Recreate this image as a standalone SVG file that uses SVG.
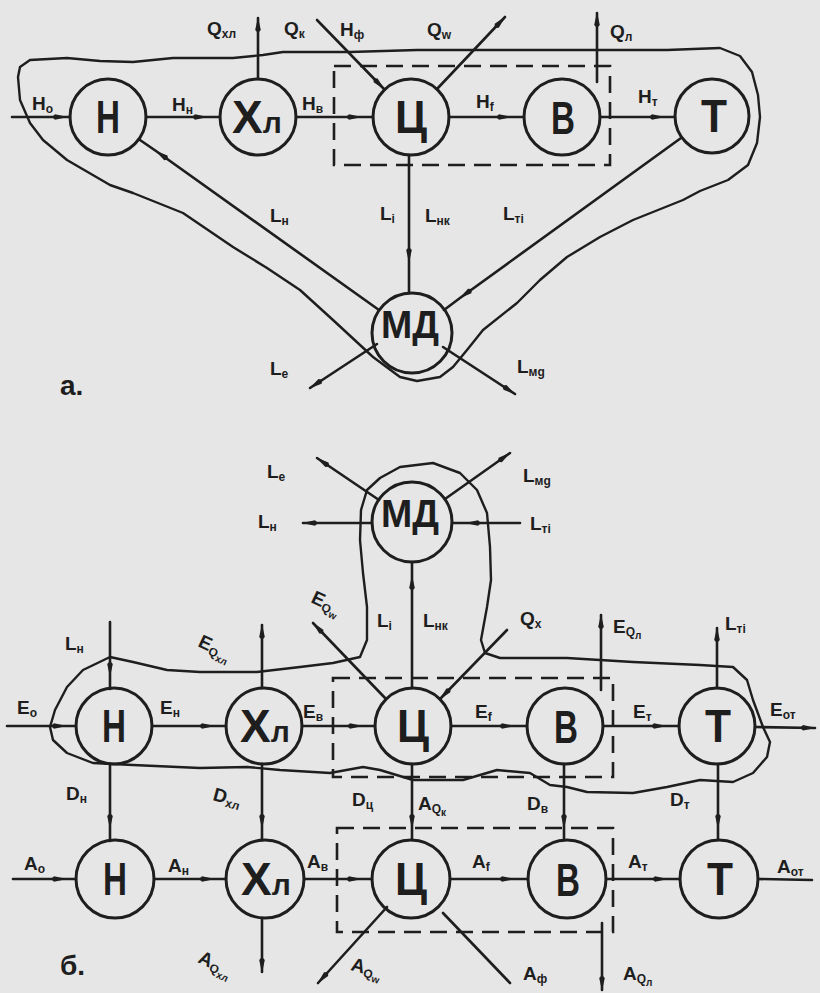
<svg xmlns="http://www.w3.org/2000/svg" width="820" height="993" viewBox="0 0 820 993">
<style>
.bg{fill:#e6e6e6}
circle{fill:none;stroke:#1e1e1e;stroke-width:3}
.ln{fill:none;stroke:#1e1e1e;stroke-width:2.6;stroke-linecap:round}
.bd{fill:none;stroke:#1e1e1e;stroke-width:2.4;stroke-linejoin:round}
.ds{fill:none;stroke:#1e1e1e;stroke-width:2.6;stroke-dasharray:17 9}
text{font-family:"Liberation Sans","DejaVu Sans",sans-serif;font-weight:bold;fill:#1e1e1e}
.nd{font-size:46px;text-anchor:middle}
.md{font-size:38px;text-anchor:middle}
.lb{font-size:19px}
.s{font-size:12px}
.big{font-size:28px}
</style>
<defs>
<marker id="ah" viewBox="0 0 16 8" refX="15" refY="4" markerWidth="16" markerHeight="8" markerUnits="userSpaceOnUse" orient="auto">
<path d="M0,4 L3,1.2 L16,4 L3,6.8 Z" fill="#1e1e1e"/>
</marker>
</defs>
<rect class="bg" x="0" y="0" width="820" height="993"/>

<!-- ===== diagram a ===== -->
<g id="a-boundary">
<path class="bd" d="M20,67 L30,60 L67,58 L100,61 L133,62 L173,58 L233,58 L263,55 L283,52 L350,52 L417,50 L500,50 L600,50 L667,50 L720,48 L740,56 L752,72 L758,95 L760,117 L757,143 L748,165 L728,180 L700,191 L683,200 L633,220 L600,237 L567,257 L540,280 L517,303 L483,330 L467,350 L453,367 L440,377 L417,381 L400,377 L373,357 L333,320 L300,290 L267,268 L233,247 L183,213 L133,193 L110,185 L67,160 L43,140 L30,123 L20,100 L18,77 Z"/>
<rect class="ds" x="334" y="66" width="276" height="99"/>
</g>
<g id="a-N"><circle cx="108" cy="117" r="38"/><text class="nd" x="108" y="133" textLength="24" lengthAdjust="spacingAndGlyphs">Н</text></g>
<g id="a-XL"><circle cx="258" cy="117" r="38"/><text class="nd" x="232" y="133" style="text-anchor:start">Х<tspan font-size="30">л</tspan></text></g>
<g id="a-C"><circle cx="411" cy="117" r="38"/><text class="nd" x="411" y="133" textLength="32" lengthAdjust="spacingAndGlyphs">Ц</text></g>
<g id="a-B"><circle cx="562" cy="117" r="38"/><text class="nd" x="563" y="134" textLength="24" lengthAdjust="spacingAndGlyphs">В</text></g>
<g id="a-T"><circle cx="712" cy="116" r="37"/><text class="nd" x="714" y="132" textLength="26" lengthAdjust="spacingAndGlyphs">Т</text></g>
<g id="a-MD"><circle cx="412" cy="333" r="40"/><text class="md" x="410" y="338" textLength="58" lengthAdjust="spacingAndGlyphs">МД</text></g>

<g id="a-connectors">
<path class="ln" marker-mid="url(#ah)" d="M12,117 L67,117 L70,117"/>
<path class="ln" marker-mid="url(#ah)" d="M146,117 L207,117 L220,117"/>
<path class="ln" marker-mid="url(#ah)" d="M296,117 L361,117 L373,117"/>
<path class="ln" marker-mid="url(#ah)" d="M449,117 L511,117 L524,117"/>
<path class="ln" marker-mid="url(#ah)" d="M600,117 L664,117 L675,117"/>
<path class="ln" marker-end="url(#ah)" d="M258,79 L258,18"/>
<path class="ln" marker-end="url(#ah)" d="M317,20 L384,89"/>
<path class="ln" marker-end="url(#ah)" d="M437,89 L505,17"/>
<path class="ln" marker-end="url(#ah)" d="M597,82 L597,13"/>
<path class="ln" marker-mid="url(#ah)" d="M379,310 L156,151 L140,140"/>
<path class="ln" marker-mid="url(#ah)" d="M409,155 L409,262 L409,293"/>
<path class="ln" marker-mid="url(#ah)" d="M681,138 L460,298 L444,310"/>
<path class="ln" marker-end="url(#ah)" d="M377,344 L310,388"/>
<path class="ln" marker-end="url(#ah)" d="M443,347 L515,394"/>
</g>
<g id="a-labels">
<text class="lb" x="32" y="110">H<tspan class="s" dy="3">о</tspan></text>
<text class="lb" x="172" y="111">H<tspan class="s" dy="3">н</tspan></text>
<text class="lb" x="302" y="110">H<tspan class="s" dy="3">в</tspan></text>
<text class="lb" x="476" y="108">H<tspan class="s" dy="3">f</tspan></text>
<text class="lb" x="638" y="103">H<tspan class="s" dy="3">т</tspan></text>
<text class="lb" x="207" y="35">Q<tspan class="s" dy="3">хл</tspan></text>
<text class="lb" x="284" y="35">Q<tspan class="s" dy="3">к</tspan></text>
<text class="lb" x="340" y="36">H<tspan class="s" dy="3">ф</tspan></text>
<text class="lb" x="427" y="36">Q<tspan class="s" dy="3">w</tspan></text>
<text class="lb" x="610" y="38">Q<tspan class="s" dy="3">л</tspan></text>
<text class="lb" x="270" y="222">L<tspan class="s" dy="3">н</tspan></text>
<text class="lb" x="380" y="220">L<tspan class="s" dy="3">i</tspan></text>
<text class="lb" x="425" y="222">L<tspan class="s" dy="3">нк</tspan></text>
<text class="lb" x="503" y="220">L<tspan class="s" dy="3">тi</tspan></text>
<text class="lb" x="270" y="375">L<tspan class="s" dy="3">e</tspan></text>
<text class="lb" x="517" y="373">L<tspan class="s" dy="3">мg</tspan></text>
<text class="big" x="60" y="395">а.</text>
</g>

<!-- ===== diagram б ===== -->
<g id="b-boundary">
<path class="bd" d="M110,657 L133,662 L167,670 L200,672 L257,672 L300,667 L333,663 L360,657 L367,640 L367,607 L363,573 L360,540 L361,510 L367,490 L380,478 L400,467 L433,463 L460,473 L477,490 L487,513 L490,547 L491,580 L487,607 L481,640 L485,653 L500,658 L567,658 L633,662 L700,665 L733,667 L747,680 L753,700 L763,727 L770,742 L767,757 L753,773 L733,782 L700,780 L667,787 L633,793 L587,792 L567,787 L550,785 L530,773 L497,770 L463,780 L413,780 L380,770 L363,767 L330,773 L280,770 L247,767 L200,768 L133,765 L93,763 L67,753 L53,740 L50,727 L55,710 L67,687 L83,670 Z"/>
<rect class="ds" x="333" y="678" width="280" height="99"/>
<rect class="ds" x="337" y="828" width="276" height="104"/>
</g>
<g id="b-MD"><circle cx="412" cy="522" r="40"/><text class="md" x="410" y="527" textLength="58" lengthAdjust="spacingAndGlyphs">МД</text></g>
<g id="b-N1"><circle cx="114" cy="726" r="38"/><text class="nd" x="114" y="742" textLength="24" lengthAdjust="spacingAndGlyphs">Н</text></g>
<g id="b-XL1"><circle cx="264" cy="726" r="38"/><text class="nd" x="240" y="742" style="text-anchor:start">Х<tspan font-size="30">л</tspan></text></g>
<g id="b-C1"><circle cx="413" cy="726" r="38"/><text class="nd" x="413" y="742" textLength="32" lengthAdjust="spacingAndGlyphs">Ц</text></g>
<g id="b-B1"><circle cx="565" cy="726" r="38"/><text class="nd" x="566" y="743" textLength="24" lengthAdjust="spacingAndGlyphs">В</text></g>
<g id="b-T1"><circle cx="717" cy="726" r="38"/><text class="nd" x="718" y="742" textLength="26" lengthAdjust="spacingAndGlyphs">Т</text></g>
<g id="b-N2"><circle cx="115" cy="879" r="39"/><text class="nd" x="115" y="895" textLength="24" lengthAdjust="spacingAndGlyphs">Н</text></g>
<g id="b-XL2"><circle cx="265" cy="879" r="39"/><text class="nd" x="241" y="895" style="text-anchor:start">Х<tspan font-size="30">л</tspan></text></g>
<g id="b-C2"><circle cx="411" cy="879" r="39"/><text class="nd" x="411" y="895" textLength="32" lengthAdjust="spacingAndGlyphs">Ц</text></g>
<g id="b-B2"><circle cx="567" cy="879" r="39"/><text class="nd" x="568" y="896" textLength="24" lengthAdjust="spacingAndGlyphs">В</text></g>
<g id="b-T2"><circle cx="719" cy="879" r="39"/><text class="nd" x="720" y="895" textLength="26" lengthAdjust="spacingAndGlyphs">Т</text></g>

<g id="b-connectors">
<path class="ln" marker-end="url(#ah)" d="M379,500 L317,458"/>
<path class="ln" marker-end="url(#ah)" d="M372,523 L303,523"/>
<path class="ln" marker-end="url(#ah)" d="M445,499 L510,453"/>
<path class="ln" marker-mid="url(#ah)" d="M520,523 L466,523 L452,523"/>
<path class="ln" marker-mid="url(#ah)" d="M412,688 L412,576 L412,562"/>
<path class="ln" marker-mid="url(#ah)" d="M7,726 L66,726 L76,726"/>
<path class="ln" marker-mid="url(#ah)" d="M152,726 L214,726 L226,726"/>
<path class="ln" marker-mid="url(#ah)" d="M302,726 L362,726 L375,726"/>
<path class="ln" marker-mid="url(#ah)" d="M451,726 L514,726 L527,726"/>
<path class="ln" marker-mid="url(#ah)" d="M603,726 L666,726 L679,726"/>
<path class="ln" marker-end="url(#ah)" d="M755,727 L815,728"/>
<path class="ln" marker-mid="url(#ah)" d="M110,622 L110,676 L110,689"/>
<path class="ln" marker-end="url(#ah)" d="M262,688 L262,625"/>
<path class="ln" marker-end="url(#ah)" d="M386,699 L313,623"/>
<path class="ln" marker-end="url(#ah)" d="M507,630 L440,699"/>
<path class="ln" marker-end="url(#ah)" d="M601,690 L601,615"/>
<path class="ln" marker-end="url(#ah)" d="M717,688 L717,628"/>
<path class="ln" marker-mid="url(#ah)" d="M110,764 L110,828 L110,841"/>
<path class="ln" marker-mid="url(#ah)" d="M262,764 L262,828 L262,840"/>
<path class="ln" marker-mid="url(#ah)" d="M412,764 L412,828 L412,840"/>
<path class="ln" marker-mid="url(#ah)" d="M564,764 L564,828 L564,840"/>
<path class="ln" marker-mid="url(#ah)" d="M718,764 L718,828 L718,840"/>
<path class="ln" marker-mid="url(#ah)" d="M13,879 L66,879 L76,879"/>
<path class="ln" marker-mid="url(#ah)" d="M154,879 L214,879 L226,879"/>
<path class="ln" marker-mid="url(#ah)" d="M304,879 L361,879 L372,879"/>
<path class="ln" marker-mid="url(#ah)" d="M450,879 L514,879 L528,879"/>
<path class="ln" marker-mid="url(#ah)" d="M606,879 L667,879 L680,879"/>
<path class="ln" d="M758,879 L812,880"/>
<path class="ln" marker-end="url(#ah)" d="M262,918 L262,972"/>
<path class="ln" marker-end="url(#ah)" d="M387,907 L318,983"/>
<path class="ln" d="M443,913 L510,983"/>
<path class="ln" marker-end="url(#ah)" d="M602,923 L602,990"/>
</g>
<g id="b-labels">
<text class="lb" x="267" y="478">L<tspan class="s" dy="3">e</tspan></text>
<text class="lb" x="258" y="528">L<tspan class="s" dy="3">н</tspan></text>
<text class="lb" x="523" y="482">L<tspan class="s" dy="3">мg</tspan></text>
<text class="lb" x="530" y="530">L<tspan class="s" dy="3">тi</tspan></text>
<text class="lb" x="377" y="627">L<tspan class="s" dy="3">i</tspan></text>
<text class="lb" x="423" y="627">L<tspan class="s" dy="3">нк</tspan></text>
<text class="lb" x="310" y="602" transform="rotate(25 310 602)">E<tspan class="s" dy="3">Q</tspan><tspan font-size="10" dy="3">w</tspan></text>
<text class="lb" x="520" y="625">Q<tspan class="s" dy="3">х</tspan></text>
<text class="lb" x="65" y="650">L<tspan class="s" dy="3">н</tspan></text>
<text class="lb" x="197" y="646" transform="rotate(25 197 646)">E<tspan class="s" dy="3">Q</tspan><tspan font-size="10" dy="3">хл</tspan></text>
<text class="lb" x="613" y="633">E<tspan class="s" dy="3">Q</tspan><tspan font-size="10" dy="3">л</tspan></text>
<text class="lb" x="725" y="630">L<tspan class="s" dy="3">тi</tspan></text>
<text class="lb" x="17" y="714">E<tspan class="s" dy="3">о</tspan></text>
<text class="lb" x="160" y="714">E<tspan class="s" dy="3">н</tspan></text>
<text class="lb" x="303" y="718">E<tspan class="s" dy="3">в</tspan></text>
<text class="lb" x="475" y="718">E<tspan class="s" dy="3">f</tspan></text>
<text class="lb" x="633" y="718">E<tspan class="s" dy="3">т</tspan></text>
<text class="lb" x="770" y="716">E<tspan class="s" dy="3">от</tspan></text>
<text class="lb" x="66" y="800">D<tspan class="s" dy="3">н</tspan></text>
<text class="lb" x="212" y="800" transform="rotate(15 212 800)">D<tspan class="s" dy="3">хл</tspan></text>
<text class="lb" x="352" y="806">D<tspan class="s" dy="3">ц</tspan></text>
<text class="lb" x="418" y="810">A<tspan class="s" dy="3">Q</tspan><tspan font-size="10" dy="3">к</tspan></text>
<text class="lb" x="527" y="810">D<tspan class="s" dy="3">в</tspan></text>
<text class="lb" x="670" y="806">D<tspan class="s" dy="3">т</tspan></text>
<text class="lb" x="24" y="870">A<tspan class="s" dy="3">о</tspan></text>
<text class="lb" x="168" y="872">A<tspan class="s" dy="3">н</tspan></text>
<text class="lb" x="307" y="868">A<tspan class="s" dy="3">в</tspan></text>
<text class="lb" x="472" y="868">A<tspan class="s" dy="3">f</tspan></text>
<text class="lb" x="628" y="868">A<tspan class="s" dy="3">т</tspan></text>
<text class="lb" x="777" y="873">A<tspan class="s" dy="3">от</tspan></text>
<text class="lb" x="197" y="962" transform="rotate(25 197 962)">A<tspan class="s" dy="3">Q</tspan><tspan font-size="10" dy="3">хл</tspan></text>
<text class="lb" x="350" y="970" transform="rotate(15 350 970)">A<tspan class="s" dy="3">Q</tspan><tspan font-size="10" dy="3">w</tspan></text>
<text class="lb" x="523" y="980">A<tspan class="s" dy="3">ф</tspan></text>
<text class="lb" x="623" y="980">A<tspan class="s" dy="3">Q</tspan><tspan font-size="10" dy="3">л</tspan></text>
<text class="big" x="60" y="975">б.</text>
</g>
</svg>
